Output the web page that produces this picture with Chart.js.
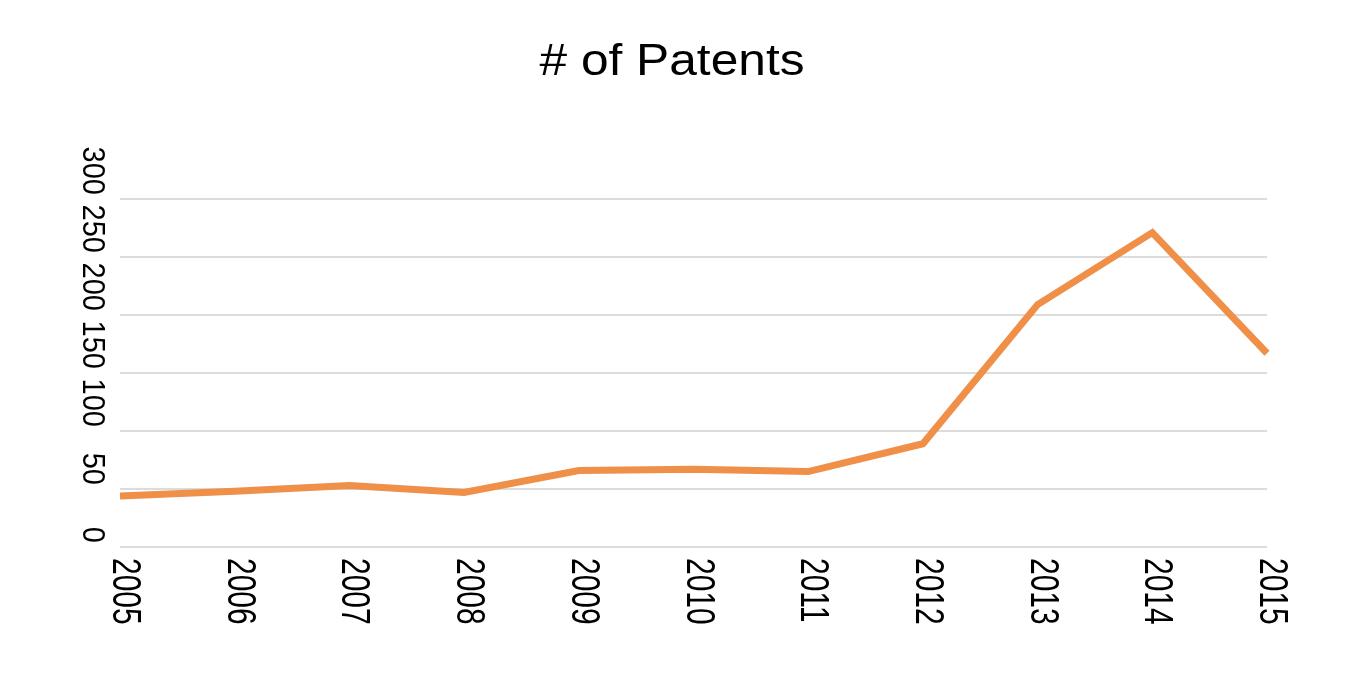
<!DOCTYPE html>
<html>
<head>
<meta charset="utf-8">
<title># of Patents</title>
<script src="https://cdn.jsdelivr.net/npm/chart.js@4/dist/chart.umd.min.js"></script>
<style>
  html, body { margin: 0; padding: 0; background: #fff; }
  #wrap { width: 1346px; height: 684px; position: relative; }
</style>
</head>
<body>
<div id="wrap"><canvas id="patentsChart"></canvas></div>
<script>
const chartTitle = "# of Patents";
const years = ["2005", "2006", "2007", "2008", "2009", "2010", "2011", "2012", "2013", "2014", "2015"];
const patents = [44, 48, 53, 47, 66, 67, 65, 89, 209, 271, 167];
const yTicks = [0, 50, 100, 150, 200, 250, 300];

const FONT = "'Liberation Sans', Arial, Helvetica, sans-serif";
const LINE_COLOR = "#ef8f48";

// the reference text is a bit wider than Liberation Sans, and tick labels read
// top-to-bottom, so title and labels are drawn here
const textLayer = {
  id: "textLayer",
  afterDraw(chart) {
    const { ctx, scales } = chart;
    const x = scales.x;
    const y = scales.y;
    ctx.save();
    ctx.fillStyle = "#000";
    ctx.textBaseline = "alphabetic";

    // title
    ctx.font = "44px " + FONT;
    const tw = ctx.measureText(chartTitle).width;
    ctx.save();
    ctx.translate(672, 75);
    ctx.scale(265 / tw, 1);
    ctx.textAlign = "center";
    ctx.fillText(chartTitle, 0, 0);
    ctx.restore();

    // y tick labels
    ctx.font = "29px " + FONT;
    yTicks.forEach((v) => {
      const py = y.getPixelForValue(v);
      ctx.save();
      ctx.translate(83, py - 4);
      ctx.rotate(Math.PI / 2);
      ctx.scale(1, 1.1);
      ctx.textAlign = "right";
      ctx.fillText(String(v), 0, 0);
      ctx.restore();
    });

    // x tick labels
    ctx.font = "30px " + FONT;
    years.forEach((label, i) => {
      const px = x.getPixelForTick(i);
      ctx.save();
      ctx.translate(px - 7, 558);
      ctx.rotate(Math.PI / 2);
      ctx.scale(1, 1.35);
      ctx.textAlign = "left";
      ctx.fillText(label, 0, 0);
      ctx.restore();
    });
    ctx.restore();
  },
};

new Chart(document.getElementById("patentsChart"), {
  type: "line",
  data: {
    labels: years,
    datasets: [
      {
        label: chartTitle,
        data: patents,
        borderColor: LINE_COLOR,
        backgroundColor: LINE_COLOR,
        borderWidth: 7,
        borderCapStyle: "butt",
        borderJoinStyle: "miter",
        pointRadius: 0,
        pointHoverRadius: 0,
        tension: 0,
        fill: false,
        clip: false,
      },
    ],
  },
  options: {
    responsive: true,
    maintainAspectRatio: false,
    animation: false,
    events: [],
    layout: { padding: { left: 120, right: 79, top: 199, bottom: 137 } },
    plugins: {
      legend: { display: false },
      tooltip: { enabled: false },
      title: { display: false },
    },
    scales: {
      x: {
        offset: false,
        grid: { display: false, drawTicks: false },
        border: { display: false },
        ticks: { display: false },
      },
      y: {
        min: 0,
        max: 300,
        grid: { color: "#dcdcdc", lineWidth: 2, drawTicks: false },
        border: { display: false },
        ticks: { display: false, stepSize: 50 },
      },
    },
  },
  plugins: [textLayer],
});
</script>
</body>
</html>
